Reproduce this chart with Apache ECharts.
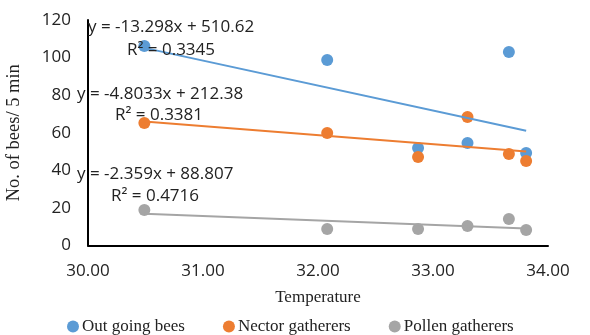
<!DOCTYPE html>
<html>
<head>
<meta charset="utf-8">
<script src="https://cdn.jsdelivr.net/npm/echarts@6/dist/echarts.min.js"></script>
<style>html,body{margin:0;padding:0;background:#fff}#c{width:590px;height:335px}</style>
</head>
<body>
<div id="c"></div>
<script>
// Data
var seriesNames = ['Out going bees', 'Nector gatherers', 'Pollen gatherers'];
var temperature = [30.49, 32.08, 32.87, 33.30, 33.66, 33.81];
var outGoing = [106.2, 98.7, 51.9, 54.5, 103.0, 49.2];
var nector = [65.2, 59.9, 47.1, 68.4, 48.7, 45.0];
var pollen = [18.9, 8.8, 8.8, 10.4, 14.1, 8.2];
var slopes = [-13.298, -4.8033, -2.359];
var intercepts = [510.62, 212.38, 88.807];
var equations = ['y = -13.298x + 510.62', 'y = -4.8033x + 212.38', 'y = -2.359x + 88.807'];
var r2Labels = ['R\u00B2 = 0.3345', 'R\u00B2 = 0.3381', 'R\u00B2 = 0.4716'];
var xTicks = [30, 31, 32, 33, 34];
var colors = ['#5B9BD5', '#ED7D31', '#A5A5A5'];

var chart = echarts.init(document.getElementById('c'));
var values = [outGoing, nector, pollen];
var xmin = Math.min.apply(null, temperature), xmax = Math.max.apply(null, temperature);
var series = [];
values.forEach(function (vals, i) {
  series.push({
    name: seriesNames[i] + ' trend', type: 'line', symbol: 'none', silent: true,
    lineStyle: { color: colors[i], width: 2 }, z: 3,
    data: [[xmin, slopes[i] * xmin + intercepts[i]], [xmax, slopes[i] * xmax + intercepts[i]]]
  });
});
values.forEach(function (vals, i) {
  series.push({
    name: seriesNames[i], type: 'scatter', symbol: 'circle', symbolSize: 12,
    itemStyle: { color: colors[i], opacity: 1 }, z: 2,
    data: temperature.map(function (t, k) { return [t, vals[k]]; })
  });
});

var eqFont = '17px "Open Sans", "Liberation Sans", sans-serif';
var eqPos = [[88, 30, 127, 53], [77, 97, 115, 118], [77, 177, 111, 199]];
var graphics = [];
equations.forEach(function (eq, i) {
  graphics.push({ type: 'text', left: eqPos[i][0], top: eqPos[i][1] - 11, z: 10,
    style: { text: eq, font: eqFont, fill: '#222' } });
  graphics.push({ type: 'text', left: eqPos[i][2], top: eqPos[i][3] - 11, z: 10,
    style: { text: r2Labels[i], font: eqFont, fill: '#222' } });
});

chart.setOption({
  animation: false,
  backgroundColor: '#fff',
  grid: { left: 88, right: 42, top: 20, bottom: 89.5, containLabel: false, outerBoundsMode: 'none' },
  legend: {
    data: seriesNames, left: 62, top: 313, icon: 'circle', itemWidth: 12, itemHeight: 12,
    itemGap: 38,
    textStyle: { fontFamily: '"Liberation Serif", serif', fontSize: 17, color: '#222', padding: [0, 0, 0, -2] }
  },
  xAxis: {
    type: 'value', min: xTicks[0], max: xTicks[xTicks.length - 1], interval: 1,
    name: 'Temperature', nameLocation: 'middle', nameGap: 44,
    nameTextStyle: { fontFamily: '"Liberation Serif", serif', fontSize: 17, color: '#222' },
    axisLine: { lineStyle: { color: '#000', width: 2 } },
    axisTick: { show: false }, splitLine: { show: false },
    axisLabel: { formatter: function (v) { return v.toFixed(2); }, fontSize: 17, margin: 17,
      fontFamily: '"Open Sans", "Liberation Sans", sans-serif', color: '#222' }
  },
  yAxis: {
    type: 'value', min: 0, max: 120, interval: 20,
    name: 'No. of bees/ 5 min', nameLocation: 'middle', nameGap: 64,
    nameTextStyle: { fontFamily: '"Liberation Serif", serif', fontSize: 18.5, color: '#222' },
    axisLine: { show: true, lineStyle: { color: '#000', width: 2 } },
    axisTick: { show: false }, splitLine: { show: false },
    axisLabel: { fontSize: 17, margin: 17,
      fontFamily: '"Open Sans", "Liberation Sans", sans-serif', color: '#222' }
  },
  series: series,
  graphic: graphics
});
</script>
</body>
</html>
